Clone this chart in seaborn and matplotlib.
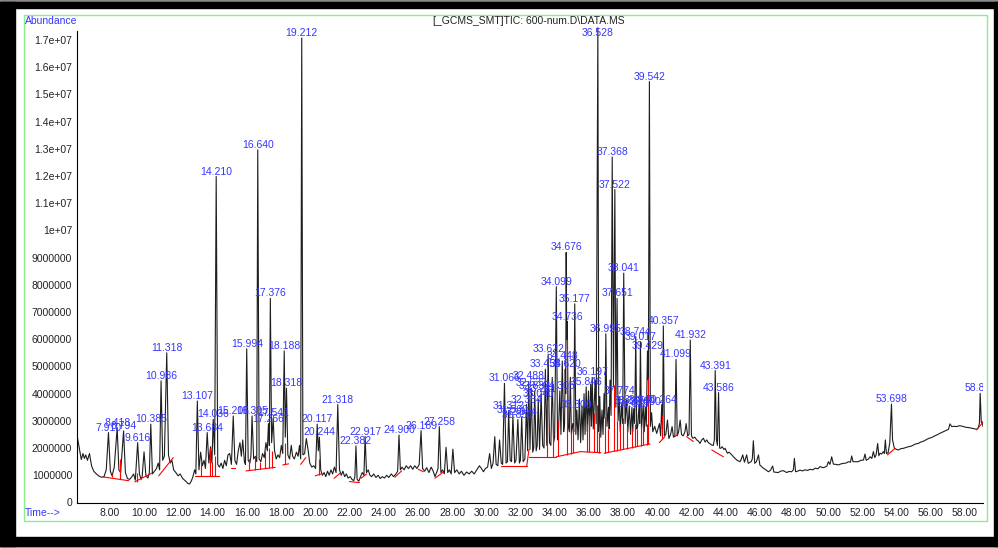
import numpy as np
import pandas as pd
import matplotlib
matplotlib.use("Agg")
import matplotlib.pyplot as plt
import seaborn as sns
from matplotlib.patches import Rectangle
from matplotlib.ticker import FixedLocator, FuncFormatter

# ---------------- data (abundance in millions, time in minutes) ----------------
peak_rt = [7.910, 8.418, 8.794, 9.616, 10.385, 10.986, 11.318, 13.107, 13.684, 14.036,
           14.210, 15.206, 15.994, 16.305, 16.640, 17.266, 17.376, 17.541, 18.188, 18.318,
           19.212, 20.117, 20.244, 21.318, 22.382, 22.917, 24.900, 26.189, 27.258,
           31.066, 31.312, 31.560, 31.850, 32.074, 32.354, 32.488, 32.632, 32.832, 33.040,
           33.211, 33.458, 33.622, 34.099, 34.305, 34.448, 34.620, 34.676, 34.736, 35.177,
           35.300, 35.846, 36.197, 36.528, 36.995, 37.368, 37.522, 37.651, 37.774, 38.041,
           38.365, 38.625, 38.744, 38.940, 39.017, 39.300, 39.429, 39.542, 40.264, 40.357,
           41.099, 41.932, 43.391, 43.586, 53.698, 58.885]
peak_h = [2.57, 2.75, 2.63, 2.20, 2.88, 4.47, 5.50, 3.73, 2.57, 3.06,
          11.98, 3.18, 5.65, 3.18, 12.96, 2.90, 7.50, 3.10, 5.57, 4.20,
          17.07, 2.88, 2.40, 3.60, 2.08, 2.42, 2.48, 2.64, 2.79,
          4.38, 3.35, 3.20, 3.05, 3.15, 3.60, 4.45, 4.20, 4.10, 3.80,
          4.00, 4.90, 5.45, 7.93, 4.10, 5.20, 4.90, 9.19, 6.65, 7.30,
          3.40, 4.25, 4.60, 17.45, 6.20, 12.70, 11.50, 7.50, 3.90, 8.43,
          3.55, 3.45, 6.10, 3.60, 5.90, 3.50, 5.57, 15.47, 3.60, 6.49,
          5.26, 5.97, 4.85, 4.04, 3.62, 4.01]

bg_t = [6.07, 6.20, 6.32, 6.42, 6.50, 6.58, 6.68, 6.80, 6.92, 7.05, 7.20, 7.35, 7.50, 7.65, 7.78,
        8.02, 8.12, 8.25, 8.52, 8.62, 8.90, 9.02, 9.15, 9.28, 9.38, 9.48, 9.72, 9.82, 9.88, 9.99,
        10.10, 10.22, 10.30, 10.48, 10.60, 10.72, 10.82, 10.90, 11.08, 11.18, 11.42, 11.52, 11.62,
        11.72, 11.85, 11.98, 12.10, 12.25, 12.40, 12.55, 12.65, 12.75, 12.85, 12.95, 13.02, 13.20,
        13.30, 13.40, 13.50, 13.58, 13.78, 13.88, 13.96, 14.12, 14.30, 14.40, 14.50, 14.60, 14.70,
        14.80, 14.90, 15.00, 15.10, 15.30, 15.40, 15.50, 15.60, 15.68, 15.76, 15.86, 15.92, 16.08,
        16.18, 16.24, 16.40, 16.50, 16.58, 16.72, 16.82, 16.92, 17.02, 17.12, 17.20, 17.32, 17.45,
        17.62, 17.72, 17.82, 17.92, 18.02, 18.10, 18.25, 18.40, 18.50, 18.60, 18.68, 18.78, 18.90,
        19.00, 19.08, 19.15, 19.28, 19.38, 19.48, 19.58, 19.68, 19.80, 19.92, 20.02, 20.18, 20.32,
        20.42, 20.52, 20.62, 20.72, 20.82, 20.92, 21.02, 21.12, 21.22, 21.42, 21.52, 21.62, 21.72,
        21.82, 21.92, 22.05, 22.15, 22.25, 22.32, 22.45, 22.55, 22.65, 22.75, 22.85, 23.00, 23.10,
        23.20, 23.30, 23.42, 23.55, 23.68, 23.80, 23.92, 24.05, 24.18, 24.30, 24.45, 24.58, 24.72,
        24.82, 24.98, 25.08, 25.20, 25.32, 25.45, 25.58, 25.70, 25.82, 25.95, 26.08, 26.28, 26.40,
        26.52, 26.65, 26.78, 26.90, 27.00, 27.10, 27.18, 27.35, 27.45, 27.55, 27.65, 27.75, 27.85,
        27.95, 28.05, 28.15, 28.28, 28.42, 28.55, 28.70, 28.85, 29.00, 29.15, 29.30, 29.45, 29.60,
        29.72, 29.84, 29.95, 30.08, 30.20, 30.30, 30.40, 30.50, 30.58, 30.68, 30.78, 30.88, 30.96,
        31.16, 31.24, 31.40, 31.48, 31.66, 31.74, 31.94, 32.00, 32.16, 32.26, 32.42, 32.56, 32.72,
        32.78, 32.92, 32.98, 33.12, 33.30, 33.38, 33.54, 33.70, 33.78, 33.86, 33.94, 34.00, 34.17,
        34.22, 34.37, 34.53, 34.58, 34.648, 34.706, 34.80, 34.86, 34.92, 34.98, 35.06, 35.12, 35.24,
        35.37, 35.45, 35.52, 35.60, 35.66, 35.72, 35.78, 35.91, 35.98, 36.04, 36.11, 36.15, 36.26,
        36.37, 36.43, 36.58, 36.64, 36.70, 36.77, 36.83, 36.89, 36.94, 37.06, 37.15, 37.19, 37.24,
        37.30, 37.44, 37.58, 37.71, 37.84, 37.91, 37.98, 38.12, 38.21, 38.28, 38.44, 38.52, 38.57,
        38.68, 38.80, 38.86, 38.975, 39.08, 39.18, 39.24, 39.36, 39.48, 39.60, 39.67, 39.74, 39.85,
        39.97, 40.06, 40.13, 40.20, 40.31, 40.42, 40.50, 40.60, 40.68, 40.78, 40.87, 40.95, 41.03,
        41.17, 41.25, 41.34, 41.42, 41.52, 41.62, 41.69, 41.78, 41.86, 42.00, 42.08, 42.20, 42.31,
        42.42, 42.50, 42.60, 42.70, 42.80, 42.90, 42.99, 43.10, 43.19, 43.28, 43.34, 43.46, 43.52,
        43.65, 43.71, 43.80, 43.90, 43.97, 44.10, 44.20, 44.36, 44.50, 44.65, 44.84, 44.92, 45.00,
        45.10, 45.23, 45.32, 45.49, 45.56, 45.62, 45.70, 45.80, 45.92, 46.00, 46.21, 46.35, 46.50,
        46.62, 46.75, 46.82, 47.08, 47.20, 47.38, 47.57, 47.70, 47.86, 47.96, 48.02, 48.09, 48.20,
        48.35, 48.50, 48.64, 48.80, 48.94, 49.10, 49.23, 49.40, 49.52, 49.70, 49.81, 49.92, 50.01,
        50.10, 50.20, 50.30, 50.45, 50.59, 50.75, 50.89, 51.05, 51.18, 51.30, 51.37, 51.45, 51.60,
        51.76, 51.90, 52.06, 52.15, 52.22, 52.35, 52.45, 52.55, 52.64, 52.72, 52.80, 52.89, 52.96,
        53.03, 53.12, 53.22, 53.28, 53.34, 53.40, 53.50, 53.60, 53.76, 53.87, 54.00, 54.10, 54.25,
        54.39, 54.55, 54.69, 54.85, 54.98, 55.10, 55.27, 55.40, 55.52, 55.65, 55.76, 55.90, 56.05,
        56.20, 56.34, 56.55, 56.73, 56.90, 57.03, 57.12, 57.22, 57.35, 57.51, 57.65, 57.81, 57.95,
        58.10, 58.25, 58.39, 58.55, 58.68, 58.78, 58.84, 58.95, 59.00, 59.05]
bg_v = [2.48, 2.00, 1.58, 1.80, 1.62, 1.75, 1.55, 1.80, 1.35, 1.15, 1.05, 0.97, 0.93, 0.95, 1.20,
        1.15, 0.98, 1.30, 1.20, 1.10, 1.10, 0.88, 0.85, 0.95, 1.05, 0.82, 1.05, 0.85, 0.95, 1.86,
        0.98, 0.90, 1.10, 1.05, 1.15, 1.25, 1.45, 1.20, 1.55, 1.70, 1.75, 1.45, 1.55,
        1.20, 1.10, 0.98, 1.05, 0.88, 0.80, 0.70, 0.68, 0.78, 0.95, 1.20, 1.05, 1.20,
        1.85, 1.35, 1.55, 1.25, 1.45, 2.05, 1.45, 1.75, 1.40, 1.30, 1.45, 1.25, 1.55,
        1.35, 1.75, 1.80, 1.40, 1.55, 1.40, 1.90, 2.20, 1.70, 2.30, 1.50, 1.40, 1.55,
        1.45, 1.70, 1.60, 1.70, 1.50, 1.60, 1.50, 1.80, 1.65, 2.20, 1.90, 2.10, 2.20,
        1.90, 1.60, 1.75, 1.65, 2.10, 1.80, 2.40, 1.75, 1.60, 2.10, 1.70, 1.60, 1.85,
        1.70, 2.10, 1.60, 1.75, 1.80, 2.35, 1.95, 1.45, 1.30, 1.35, 1.25, 1.90, 1.20,
        1.00, 1.10, 0.95, 1.15, 1.00, 1.20, 1.05, 1.30, 1.10, 1.20, 1.00, 1.15, 0.95,
        1.05, 0.90, 0.95, 0.85, 0.80, 0.95, 0.85, 0.78, 0.95, 1.10, 1.00, 1.10, 1.20,
        1.00, 0.95, 1.05, 0.92, 1.00, 0.88, 0.95, 0.90, 1.00, 0.92, 1.05, 0.95, 1.05,
        1.15, 1.20, 1.30, 1.20, 1.35, 1.25, 1.35, 1.22, 1.35, 1.25, 1.40, 1.25, 1.15,
        1.28, 1.10, 1.30, 1.15, 0.95, 1.10, 1.25, 1.10, 1.20, 1.05, 2.03, 1.10, 1.20,
        1.05, 1.96, 1.10, 1.20, 1.05, 1.15, 1.00, 1.12, 1.05, 1.15, 1.05, 1.20, 1.35,
        1.25, 1.13, 1.25, 1.30, 1.80, 1.25, 1.45, 2.42, 1.40, 1.35, 2.30, 1.45, 1.40,
        1.45, 1.50, 1.55, 1.50, 1.45, 1.55, 1.45, 1.55, 1.50, 1.60, 1.90, 1.95, 1.85,
        2.00, 1.90, 2.10, 1.95, 2.10, 2.00, 2.10, 2.20, 2.10, 4.60, 2.20, 2.40, 2.30,
        2.60, 2.50, 2.60, 2.90, 4.00, 6.00, 2.80, 2.60, 4.60, 2.50, 2.90, 2.60, 2.50,
        2.30, 3.80, 2.20, 3.55, 2.30, 4.00, 2.50, 2.60, 4.10, 2.60, 4.35, 2.80, 2.70,
        4.50, 2.90, 2.60, 3.90, 2.40, 3.40, 2.50, 4.00, 3.10, 2.80, 3.50, 2.70, 4.50,
        3.20, 4.30, 3.50, 3.00, 2.60, 3.60, 2.90, 2.90, 3.77, 2.60, 2.50, 3.50, 2.60,
        2.90, 2.70, 2.80, 2.90, 2.70, 3.60, 2.60, 2.80, 4.50, 2.80, 3.30, 2.60, 2.80,
        2.54, 2.75, 2.90, 2.45, 2.70, 2.45, 2.50, 3.03, 2.35, 2.50, 2.79, 2.40, 2.45,
        2.45, 2.60, 3.03, 2.50, 2.45, 2.60, 2.90, 2.45, 2.50, 2.45, 2.36, 2.40, 2.30,
        2.25, 2.17, 2.30, 2.36, 2.22, 2.30, 2.20, 2.15, 2.11, 2.10, 2.30, 2.30, 2.10,
        2.00, 1.99, 2.05, 1.95, 1.99, 1.81, 1.85, 1.75, 1.65, 1.56, 1.50, 1.60, 1.75,
        1.48, 1.75, 1.44, 1.50, 1.60, 2.27, 1.44, 1.50, 1.75, 1.38, 1.26, 1.20, 1.13,
        1.18, 1.34, 1.12, 1.10, 1.15, 1.17, 1.10, 1.14, 1.13, 1.20, 1.62, 1.13, 1.15,
        1.19, 1.16, 1.20, 1.18, 1.22, 1.20, 1.26, 1.24, 1.32, 1.28, 1.30, 1.34, 1.50,
        1.40, 1.68, 1.41, 1.40, 1.38, 1.42, 1.44, 1.45, 1.50, 1.48, 1.71, 1.50, 1.50,
        1.50, 1.55, 1.56, 1.78, 1.55, 1.60, 1.68, 1.62, 1.87, 1.65, 1.75, 2.17, 1.72,
        1.81, 1.78, 1.87, 1.80, 2.30, 1.80, 1.83, 2.20, 2.30, 1.99, 1.95, 1.93, 1.98,
        1.99, 2.02, 2.05, 2.07, 2.11, 2.15, 2.17, 2.22, 2.24, 2.28, 2.32, 2.36, 2.39,
        2.44, 2.48, 2.55, 2.60, 2.65, 2.69, 2.89, 2.79, 2.80, 2.79, 2.82, 2.81, 2.78,
        2.76, 2.75, 2.73, 2.71, 2.69, 2.75, 2.91, 2.95, 2.97, 2.79]

# integration baselines (red): start time/value, end time/value
base_t0 = [7.60, 9.45, 10.85, 12.96, 15.10, 15.95, 18.10, 19.15, 20.00, 21.10, 22.00, 22.68,
           24.66, 26.03, 27.00, 30.85, 32.37, 32.50, 34.10, 35.50, 36.90, 40.12, 41.04, 41.72,
           43.19, 53.46, 58.68]
base_v0 = [0.94, 0.76, 0.98, 0.98, 1.25, 1.16, 1.38, 1.40, 0.98, 0.89, 0.77, 0.89,
           0.93, 1.22, 0.89, 1.35, 1.35, 1.68, 1.68, 1.87, 1.81, 2.20, 2.42, 2.42,
           1.93, 1.75, 2.67]
base_t1 = [9.10, 10.45, 11.70, 14.40, 15.30, 17.66, 18.45, 19.45, 20.35, 21.45, 22.58, 23.01,
           25.05, 26.32, 27.45, 32.37, 32.50, 34.10, 35.50, 36.70, 39.57, 40.45, 41.20, 42.11,
           43.87, 53.91, 59.03]
base_v1 = [0.80, 1.08, 1.65, 0.98, 1.25, 1.29, 1.42, 1.65, 1.05, 1.07, 0.73, 1.05,
           1.16, 1.13, 1.10, 1.35, 1.95, 1.68, 1.87, 1.83, 2.15, 2.42, 2.52, 2.24,
           1.68, 1.99, 2.94]
# drop lines (red): time, baseline value, top value
drop_t = [8.12, 8.57, 9.55, 13.30, 13.85, 13.98, 14.12, 16.15, 16.45, 16.80, 17.05, 17.32,
          17.45, 18.25, 20.20, 33.55, 33.90, 34.20, 34.71, 34.95, 35.10, 35.90, 36.00, 36.30,
          36.45, 36.60, 36.94, 37.14, 37.47, 37.62, 37.82, 38.00, 38.25, 38.50, 38.70, 38.83,
          39.03, 39.18, 39.38, 39.48, 40.30]
drop_v0 = [0.92, 0.86, 0.75, 0.98, 0.98, 0.98, 0.98, 1.18, 1.20, 1.22, 1.25, 1.27,
           1.28, 1.40, 1.02, 1.68, 1.68, 1.70, 1.75, 1.80, 1.83, 1.86, 1.86, 1.85,
           1.84, 1.83, 1.82, 1.84, 1.88, 1.90, 1.93, 1.95, 1.98, 2.01, 2.04, 2.06,
           2.08, 2.10, 2.12, 2.14, 2.35]
drop_v1 = [1.05, 1.59, 1.10, 1.50, 2.00, 1.50, 1.70, 1.60, 1.70, 1.50, 1.90, 2.00,
           1.90, 2.20, 1.60, 3.75, 2.80, 3.00, 6.00, 2.60, 2.80, 2.90, 3.20, 3.30,
           3.60, 2.60, 3.15, 2.70, 4.30, 3.00, 2.90, 3.10, 2.80, 2.70, 2.90, 2.70,
           2.80, 3.00, 2.90, 4.56, 3.20]

y_major = list(range(0, 18))       # millions
x_major = list(range(8, 60, 2))

# ---------------- figure ----------------
sns.set_style("white")
plt.rcParams["font.family"] = ["Liberation Sans", "DejaVu Sans"]

W, H = 998, 548
fig = plt.figure(figsize=(W / 100, H / 100), dpi=100)
fig.patch.set_facecolor("white")


def px_rect(x0, y0, x1, y1, **kw):
    return Rectangle((x0 / W, 1 - y1 / H), (x1 - x0) / W, (y1 - y0) / H,
                     transform=fig.transFigure, **kw)


# outer black frame with light shadow
for r in [px_rect(0, 546, W, H, color="#bbbbbb"),
          px_rect(0, 0, W, 1.5, color="#888888"),
          px_rect(0, 1.5, 15, 546, color="black"),
          px_rect(0, 1.5, W, 8, color="black"),
          px_rect(994, 1.5, W, 546, color="black"),
          px_rect(0, 537, W, 546, color="black")]:
    fig.patches.append(r)
fig.patches.append(px_rect(24, 15, 987, 521, fill=False, edgecolor="#8ced8c", lw=1.0))

ax_l, ax_r, ax_b, ax_t = 77, 983, 502.5, 25
ax = fig.add_axes([ax_l / W, 1 - ax_b / H, (ax_r - ax_l) / W, (ax_b - ax_t) / H])
ax.patch.set_alpha(0)

trace = pd.DataFrame({"time": bg_t + peak_rt,
                      "abund": [v * 1e6 for v in bg_v + peak_h]}).sort_values("time")
sns.lineplot(data=trace, x="time", y="abund", ax=ax, estimator=None, sort=True,
             color="#1e1e1e", lw=0.8)

segs = pd.DataFrame({
    "seg": list(range(len(base_t0))) * 2,
    "time": base_t0 + base_t1,
    "abund": [v * 1e6 for v in base_v0 + base_v1]})
sns.lineplot(data=segs, x="time", y="abund", units="seg", estimator=None, ax=ax,
             color="#ff0000", lw=0.8)
ax.vlines(drop_t, [v * 1e6 for v in drop_v0], [v * 1e6 for v in drop_v1],
          color="#ff0000", lw=0.8)

ymax = (ax_b - ax_t) / 27.21 * 1e6
ax.set_xlim(6.07, 59.05)
ax.set_ylim(0, ymax)
label_cap = 17.07e6
for rt, h in zip(peak_rt, peak_h):
    ax.annotate(f"{rt:.3f}", (rt, min(h * 1e6, label_cap)), xytext=(0, 0),
                textcoords="offset points", ha="center", va="bottom",
                fontsize=7.5, color="#3535ff", clip_on=True, annotation_clip=False)

# axes styling
for s in ["top", "right"]:
    ax.spines[s].set_visible(False)
for s in ["left", "bottom"]:
    ax.spines[s].set_color("black")
    ax.spines[s].set_linewidth(0.8)
ax.spines["left"].set_bounds(0, 17.33e6)

ax.yaxis.set_major_locator(FixedLocator([v * 1e6 for v in y_major]))
ax.yaxis.set_minor_locator(FixedLocator(np.arange(0, 17.33e6, 2e5)))
ax.xaxis.set_major_locator(FixedLocator(x_major))
ax.xaxis.set_minor_locator(FixedLocator(np.arange(6.5, 59.01, 0.5)))


def yfmt(v, pos):
    if v < 1e7:
        return f"{int(round(v))}"
    return f"{v:g}"


ax.yaxis.set_major_formatter(FuncFormatter(yfmt))
ax.xaxis.set_major_formatter(FuncFormatter(lambda v, p: f"{v:.2f}"))
ax.tick_params(axis="both", which="major", direction="out", length=3, width=0.8,
               color="black", labelsize=7.5, labelcolor="#222222")
ax.tick_params(axis="y", which="major", pad=0.5)
ax.tick_params(axis="x", which="major", pad=1.2)
ax.tick_params(axis="both", which="minor", direction="out", length=2, width=0.7,
               color="black")
ax.set_xlabel("")
ax.set_ylabel("")
ax.grid(False)

fig.text(25 / W, 1 - 20.5 / H, "Abundance", fontsize=7.5, color="#3535ff",
         ha="left", va="center")
fig.text(25 / W, 1 - 513.5 / H, "Time-->", fontsize=7.5, color="#3535ff",
         ha="left", va="center")
fig.text(529 / W, 1 - 21.5 / H, "[_GCMS_SMT]TIC: 600-num.D\\DATA.MS", fontsize=7.5,
         color="#222222", ha="center", va="center")

fig.savefig("out.png", dpi=100)
